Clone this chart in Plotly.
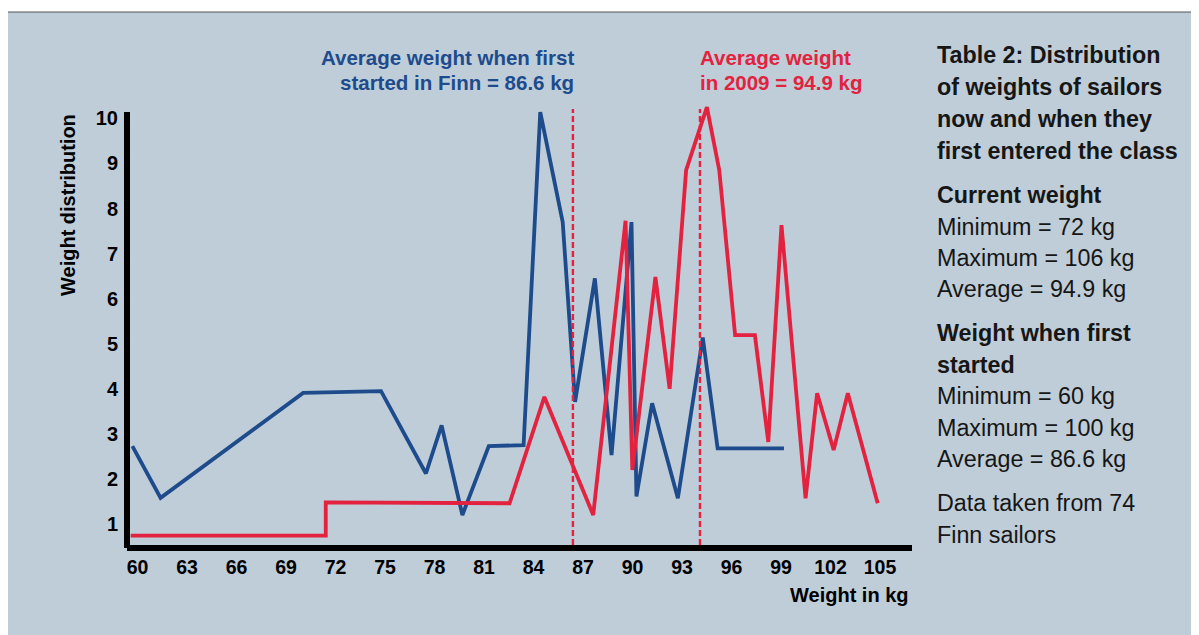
import plotly.graph_objects as go

# ---------------- data ----------------
first_x = [59.69, 61.40, 70.04, 74.76, 77.48, 78.43, 79.69, 81.29, 83.40, 84.41, 85.77,
           86.52, 87.72, 88.73, 89.94, 90.24, 91.19, 92.75, 94.26, 95.16, 99.18]
first_y = [2.73, 1.58, 3.91, 3.95, 2.12, 3.19, 1.2, 2.73, 2.75, 10.14, 7.70,
           3.71, 6.45, 2.53, 7.70, 1.61, 3.68, 1.57, 5.14, 2.68, 2.68]

now_x = [59.59, 71.41, 71.41, 82.55, 84.66, 87.62, 89.58, 89.99, 91.39, 92.25, 93.25,
         94.51, 95.26, 96.22, 97.42, 98.23, 99.03, 100.49, 101.19, 102.19, 103.05, 104.86]
now_y = [0.74, 0.74, 1.48, 1.46, 3.82, 1.2, 7.73, 2.2, 6.48, 4.0, 8.85,
         10.25, 8.85, 5.19, 5.19, 2.82, 7.63, 1.57, 3.9, 2.64, 3.9, 1.46]

avg_lines_x = [86.39, 94.09]          # where the dashed average lines are drawn
x_ticks = list(range(60, 106, 3))
y_ticks = list(range(1, 11))

blue_note = ["Average weight when first", "started in Finn = 86.6 kg"]
red_note = ["Average weight", "in 2009 = 94.9 kg"]

panel_lines = [
    ("Table 2: Distribution", True), ("of weights of sailors", True),
    ("now and when they", True), ("first entered the class", True),
    ("Current weight", True), ("Minimum = 72 kg", False),
    ("Maximum = 106 kg", False), ("Average = 94.9 kg", False),
    ("Weight when first", True), ("started", True),
    ("Minimum = 60 kg", False), ("Maximum = 100 kg", False),
    ("Average = 86.6 kg", False),
    ("Data taken from 74", False), ("Finn sailors", False),
]
panel_y_px = [55, 87, 119, 151, 195, 227, 258, 289, 333, 365, 396, 428, 459, 503, 535]

# ---------------- styling ----------------
OFF = 8                     # page offset of the figure (body margin)
W, H = 1199 - OFF, 635 - OFF
L, R, T, B = 127, 912, 104, 545          # plot area in page pixels
BG = "#BFCDD8"
BLUE = "#1D4B8C"
RED = "#E2223F"
SANS = "Liberation Sans, Arial, Helvetica, sans-serif"


def px(xp):
    return (xp - L) / (R - L)


def py(yp):
    return (B - yp) / (B - T)


fig = go.Figure()
fig.add_trace(go.Scatter(x=first_x, y=first_y, mode="lines",
                         line=dict(color=BLUE, width=3.8), showlegend=False))
fig.add_trace(go.Scatter(x=now_x, y=now_y, mode="lines",
                         line=dict(color=RED, width=3.8), showlegend=False))

shapes = [
    dict(type="rect", xref="paper", yref="paper", x0=px(7), x1=px(1197),
         y0=py(660), y1=py(12), fillcolor=BG,
         line=dict(color="#555555", width=1.2), layer="below"),
    dict(type="line", xref="paper", yref="paper", x0=px(127), x1=px(127),
         y0=py(548), y1=py(112), line=dict(color="black", width=6)),
]
for ax in avg_lines_x:
    shapes.append(dict(type="line", xref="x", yref="paper", x0=ax, x1=ax,
                       y0=0, y1=py(109), line=dict(color=RED, width=2.4, dash="6px,3px")))

annotations = []
for i, t in enumerate(blue_note):
    annotations.append(dict(xref="paper", yref="paper", x=px(576), y=py(58 + 25 * i),
                            text=t, showarrow=False, xanchor="right", yanchor="middle",
                            font=dict(family=SANS, size=20.5, color=BLUE, weight="bold")))
for i, t in enumerate(red_note):
    annotations.append(dict(xref="paper", yref="paper", x=px(698), y=py(58 + 25 * i),
                            text=t, showarrow=False, xanchor="left", yanchor="middle",
                            font=dict(family=SANS, size=20.5, color=RED, weight="bold")))
for (t, bold), yp in zip(panel_lines, panel_y_px):
    annotations.append(dict(xref="paper", yref="paper", x=px(935), y=py(yp),
                            text=t, showarrow=False, xanchor="left", yanchor="middle",
                            font=dict(family=SANS, size=23.3, color="#161616",
                                      weight="bold" if bold else "normal")))
annotations.append(dict(xref="paper", yref="paper", x=px(911), y=py(595),
                        text="Weight in kg", showarrow=False, xanchor="right",
                        yanchor="middle",
                        font=dict(family=SANS, size=20, color="black", weight="bold")))
annotations.append(dict(xref="paper", yref="paper", x=px(68), y=py(205),
                        text="Weight distribution", showarrow=False, textangle=-90,
                        xanchor="center", yanchor="middle",
                        font=dict(family=SANS, size=20, color="black", weight="bold")))

fig.update_layout(
    width=W, height=H,
    margin=dict(l=L - OFF, r=(W + OFF) - R, t=T - OFF, b=(H + OFF) - B),
    paper_bgcolor="white", plot_bgcolor="rgba(0,0,0,0)",
    shapes=shapes, annotations=annotations,
    xaxis=dict(range=[59.364, 106.94], tickvals=x_ticks, ticktext=[str(v) for v in x_ticks],
               showgrid=False, zeroline=False, showline=True, linecolor="black",
               linewidth=6, ticks="", ticklabelstandoff=0,
               tickfont=dict(family=SANS, size=19.5, color="black", weight="bold")),
    yaxis=dict(range=[0.534, 10.32], tickvals=y_ticks, showgrid=False, zeroline=False,
               showline=False, ticks="", ticklabelstandoff=8,
               tickfont=dict(family=SANS, size=20, color="black", weight="bold")),
)

fig.write_html("out.html")
